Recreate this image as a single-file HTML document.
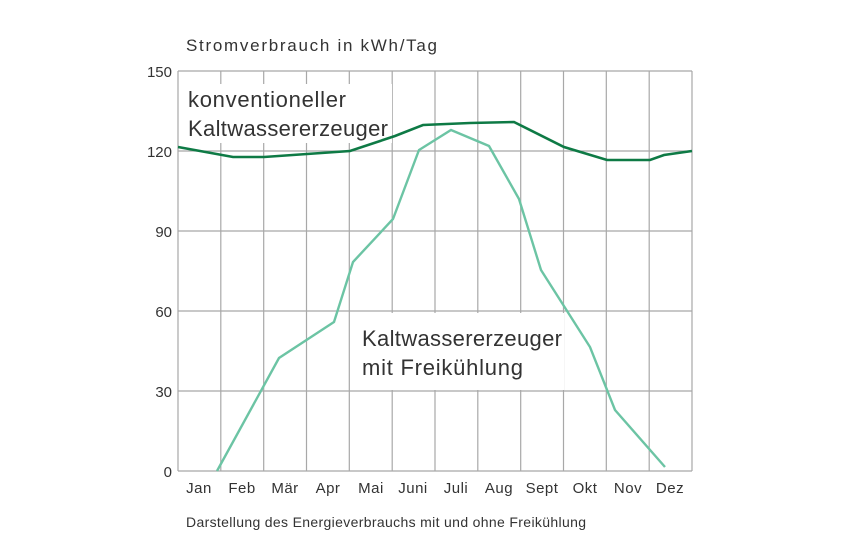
<!DOCTYPE html>
<html><head><meta charset="utf-8"><style>
body{margin:0;background:#fff;}
svg text{font-family:"Liberation Sans",sans-serif;fill:#333;}
</style></head><body>
<svg width="850" height="554" xmlns="http://www.w3.org/2000/svg">
<rect width="850" height="554" fill="#fff"/>
<g stroke="#a8a8a8" stroke-width="1.2" fill="none">
<line x1="178" y1="71" x2="692" y2="71"/>
<line x1="178" y1="151" x2="692" y2="151"/>
<line x1="178" y1="231" x2="692" y2="231"/>
<line x1="178" y1="311" x2="692" y2="311"/>
<line x1="178" y1="391" x2="692" y2="391"/>
<line x1="178" y1="471" x2="692" y2="471"/>
<line x1="178.0" y1="71" x2="178.0" y2="471"/>
<line x1="220.8" y1="71" x2="220.8" y2="471"/>
<line x1="263.7" y1="71" x2="263.7" y2="471"/>
<line x1="306.5" y1="71" x2="306.5" y2="471"/>
<line x1="349.3" y1="71" x2="349.3" y2="471"/>
<line x1="392.2" y1="71" x2="392.2" y2="471"/>
<line x1="435.0" y1="71" x2="435.0" y2="471"/>
<line x1="477.8" y1="71" x2="477.8" y2="471"/>
<line x1="520.7" y1="71" x2="520.7" y2="471"/>
<line x1="563.5" y1="71" x2="563.5" y2="471"/>
<line x1="606.3" y1="71" x2="606.3" y2="471"/>
<line x1="649.2" y1="71" x2="649.2" y2="471"/>
<line x1="692.0" y1="71" x2="692.0" y2="471"/>
</g>
<rect x="184" y="84" width="208" height="59" fill="#fff"/>
<rect x="350" y="313" width="214" height="77" fill="#fff"/>
<polyline fill="none" stroke="#0e7a45" stroke-width="2.6" points="178,147 233,157 264,157 307,154 350,151 395,136 423,125 470,123 514,122 564,147 607,160 650,160 664,155 692,151"/>
<polyline fill="none" stroke="#6cc4a4" stroke-width="2.4" points="217,471 279,358 334,322 353,262 393,219 419,150 451,130 489,146 519,199 541,270 590,347 615,410 665,467"/>
<text x="186" y="51" font-size="17" textLength="251" lengthAdjust="spacing">Stromverbrauch in kWh/Tag</text>
<g font-size="15" text-anchor="end">
<text x="172" y="77">150</text><text x="172" y="157">120</text><text x="172" y="237">90</text>
<text x="172" y="317">60</text><text x="172" y="397">30</text><text x="172" y="477">0</text>
</g>
<g font-size="15" text-anchor="middle" letter-spacing="0.5">
<text x="199" y="493">Jan</text><text x="242" y="493">Feb</text><text x="285" y="493">Mär</text>
<text x="328" y="493">Apr</text><text x="371" y="493">Mai</text><text x="413" y="493">Juni</text>
<text x="456" y="493">Juli</text><text x="499" y="493">Aug</text><text x="542" y="493">Sept</text>
<text x="585" y="493">Okt</text><text x="628" y="493">Nov</text><text x="670" y="493">Dez</text>
</g>
<g font-size="22" fill="#222">
<text x="188" y="107" textLength="158" lengthAdjust="spacing">konventioneller</text>
<text x="188" y="136" textLength="200" lengthAdjust="spacing">Kaltwassererzeuger</text>
<text x="362" y="346" textLength="200" lengthAdjust="spacing">Kaltwassererzeuger</text>
<text x="362" y="375" textLength="161" lengthAdjust="spacing">mit Freikühlung</text>
</g>
<text x="186" y="527" font-size="14" textLength="400" lengthAdjust="spacing">Darstellung des Energieverbrauchs mit und ohne Freikühlung</text>
</svg>
</body></html>
